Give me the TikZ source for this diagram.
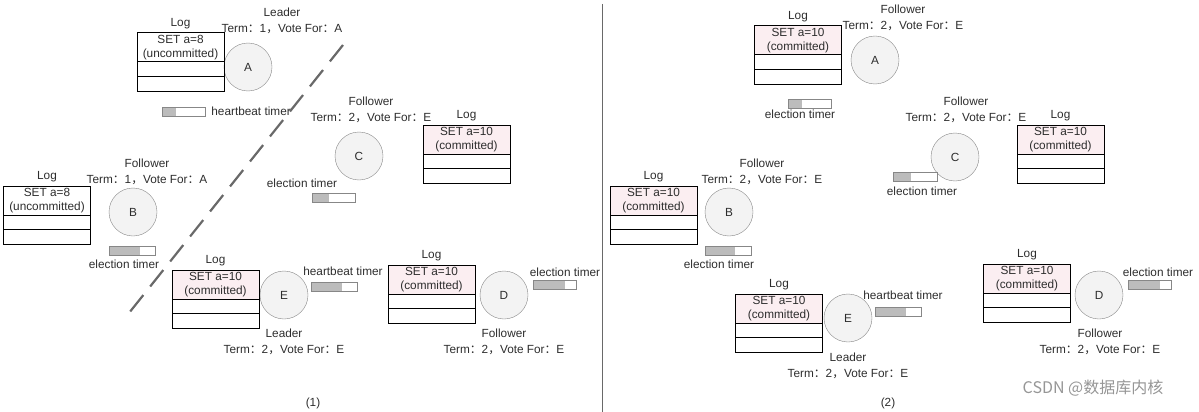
\documentclass[tikz,border=0pt]{standalone}
\usepackage{fontspec}
\setmainfont{Liberation Sans}
\newfontfamily\cjk{Noto Sans CJK SC}
\usetikzlibrary{positioning}
\definecolor{textgray}{RGB}{45,45,45}
\definecolor{pinklog}{RGB}{251,238,241}
\definecolor{nodefill}{RGB}{243,243,243}
\definecolor{nodeline}{RGB}{135,135,135}
\definecolor{timerfill}{RGB}{188,188,188}
\definecolor{splitgray}{RGB}{105,105,105}
\definecolor{markgray}{RGB}{150,150,150}
\newcommand{\termvote}[2]{Term{\cjk ：}#1{\cjk ，}Vote For{\cjk ：}#2}
\tikzset{
  txt/.style={text=textgray, font=\fontsize{11.8}{16}\selectfont, inner sep=0pt, align=center},
  server/.style={circle, draw=nodeline, fill=nodefill, minimum size=48pt, inner sep=0pt,
    text=textgray, font=\fontsize{11.8}{13}\selectfont},
  logtop/.style={draw, line width=1pt, outer sep=0pt, minimum width=87pt, minimum height=29pt,
    inner sep=0pt, align=center, text=textgray, font=\fontsize{11.8}{14}\selectfont},
  committed/.style={logtop, fill=pinklog},
  logrow/.style={draw, line width=1pt, outer sep=0pt, minimum width=87pt, minimum height=14.5pt, inner sep=0pt},
  timer/.style={draw=nodeline, fill=white, minimum width=43pt, minimum height=9pt, inner sep=0pt},
  elapsed/.style={path picture={\fill[timerfill] (path picture bounding box.north west)
    rectangle ([xshift=#1]path picture bounding box.south west);}},
  split/.style={splitgray, line width=2.2pt, dash pattern=on 21pt off 11pt},
}

\begin{document}
\begin{tikzpicture}[x=1pt, y=-1pt]
  \useasboundingbox (0,0) rectangle (1199,412);

  % ---------------- Panel (1) ----------------
  % Server A
  \node[server] (sA1) at (248,67) {A};
  \node[logtop] (gA1) at (180.5,47.5) {SET a=8\\(uncommitted)};
  \node[logrow, below=0pt of gA1] (gA1x) {};
  \node[logrow, below=0pt of gA1x] (gA1y) {};
  \node[txt, above=4pt of gA1] (hA1) {Log};
  \node[txt] (rA1) at (282,21) {Leader\\\termvote{1}{A}};
  \node[timer, elapsed=14pt] (tA1) at (183.5,111.5) {};
  \node[txt, right=6pt of tA1] (lA1) {heartbeat timer};

  % Server B
  \node[server] (sB1) at (133,212) {B};
  \node[logtop] (gB1) at (47,200.5) {SET a=8\\(uncommitted)};
  \node[logrow, below=0pt of gB1] (gB1x) {};
  \node[logrow, below=0pt of gB1x] (gB1y) {};
  \node[txt, above=4pt of gB1] (hB1) {Log};
  \node[txt] (rB1) at (147,172) {Follower\\\termvote{1}{A}};
  \node[timer, minimum width=46pt, elapsed=31pt] (tB1) at (132,251) {};
  \node[txt] (lB1) at (124,264) {election timer};

  % Server C
  \node[server] (sC1) at (359,156) {C};
  \node[committed] (gC1) at (466.5,139.5) {SET a=10\\(committed)};
  \node[logrow, below=0pt of gC1] (gC1x) {};
  \node[logrow, below=0pt of gC1x] (gC1y) {};
  \node[txt, above=4pt of gC1] (hC1) {Log};
  \node[txt] (rC1) at (371,110) {Follower\\\termvote{2}{E}};
  \node[timer, elapsed=17pt] (tC1) at (333.5,197.5) {};
  \node[txt] (lC1) at (302,183) {election timer};

  % Server E
  \node[server] (sE1) at (284,295) {E};
  \node[committed] (gE1) at (215.5,284.5) {SET a=10\\(committed)};
  \node[logrow, below=0pt of gE1] (gE1x) {};
  \node[logrow, below=0pt of gE1x] (gE1y) {};
  \node[txt, above=4pt of gE1] (hE1) {Log};
  \node[txt] (rE1) at (284,341.5) {Leader\\\termvote{2}{E}};
  \node[timer, minimum width=46pt, elapsed=31pt] (tE1) at (334,287) {};
  \node[txt] (lE1) at (343,271) {heartbeat timer};

  % Server D
  \node[server] (sD1) at (504,295) {D};
  \node[committed] (gD1) at (431.5,279.5) {SET a=10\\(committed)};
  \node[logrow, below=0pt of gD1] (gD1x) {};
  \node[logrow, below=0pt of gD1x] (gD1y) {};
  \node[txt, above=4pt of gD1] (hD1) {Log};
  \node[txt] (rD1) at (504,341.5) {Follower\\\termvote{2}{E}};
  \node[timer, elapsed=32pt] (tD1) at (554.5,285) {};
  \node[txt] (lD1) at (565,272) {election timer};

  % Partition
  \coordinate (cuttop) at (343,45);
  \coordinate (cutbot) at (125,318);
  \draw[split] (cuttop) -- (cutbot);

  \node[txt] (cap1) at (313,403) {(1)};

  % Separator
  \coordinate (septop) at (602,4);
  \coordinate (sepbot) at (602,412);
  \draw[splitgray, line width=1pt] (septop) -- (sepbot);

  % ---------------- Panel (2) ----------------
  % Server A
  \node[server] (sA2) at (875,60) {A};
  \node[committed] (gA2) at (798,40.5) {SET a=10\\(committed)};
  \node[logrow, below=0pt of gA2] (gA2x) {};
  \node[logrow, below=0pt of gA2x] (gA2y) {};
  \node[txt, above=4pt of gA2] (hA2) {Log};
  \node[txt] (rA2) at (903,18) {Follower\\\termvote{2}{E}};
  \node[timer, elapsed=14pt] (tA2) at (809.5,104) {};
  \node[txt] (lA2) at (800,114) {election timer};

  % Server B
  \node[server] (sB2) at (729,212) {B};
  \node[committed] (gB2) at (653.5,200.5) {SET a=10\\(committed)};
  \node[logrow, below=0pt of gB2] (gB2x) {};
  \node[logrow, below=0pt of gB2x] (gB2y) {};
  \node[txt, above=4pt of gB2] (hB2) {Log};
  \node[txt] (rB2) at (762,172) {Follower\\\termvote{2}{E}};
  \node[timer, minimum width=46pt, elapsed=30pt] (tB2) at (728,251) {};
  \node[txt] (lB2) at (719,264) {election timer};

  % Server C
  \node[server] (sC2) at (955,157) {C};
  \node[committed] (gC2) at (1060.5,139.5) {SET a=10\\(committed)};
  \node[logrow, below=0pt of gC2] (gC2x) {};
  \node[logrow, below=0pt of gC2x] (gC2y) {};
  \node[txt, above=4pt of gC2] (hC2) {Log};
  \node[txt] (rC2) at (966,110) {Follower\\\termvote{2}{E}};
  \node[timer, minimum width=44pt, elapsed=18pt] (tC2) at (915,176.5) {};
  \node[txt] (lC2) at (922,191) {election timer};

  % Server E
  \node[server] (sE2) at (848,318) {E};
  \node[committed] (gE2) at (779,308.5) {SET a=10\\(committed)};
  \node[logrow, below=0pt of gE2] (gE2x) {};
  \node[logrow, below=0pt of gE2x] (gE2y) {};
  \node[txt, above=4pt of gE2] (hE2) {Log};
  \node[txt] (rE2) at (848,365.5) {Leader\\\termvote{2}{E}};
  \node[timer, minimum width=46pt, elapsed=31pt] (tE2) at (898,311.5) {};
  \node[txt] (lE2) at (903,295) {heartbeat timer};

  % Server D
  \node[server] (sD2) at (1099,295) {D};
  \node[committed] (gD2) at (1027,278.5) {SET a=10\\(committed)};
  \node[logrow, below=0pt of gD2] (gD2x) {};
  \node[logrow, below=0pt of gD2x] (gD2y) {};
  \node[txt, above=4pt of gD2] (hD2) {Log};
  \node[txt] (rD2) at (1100,341.5) {Follower\\\termvote{2}{E}};
  \node[timer, elapsed=32pt] (tD2) at (1149.5,285) {};
  \node[txt] (lD2) at (1158,272) {election timer};

  \node[txt] (cap2) at (888,403) {(2)};

  % Watermark
  \node[text=markgray, font=\cjk\fontsize{16}{18}\selectfont, inner sep=0pt] (mark) at (1093,388) {CSDN @数据库内核};
\end{tikzpicture}
\end{document}
